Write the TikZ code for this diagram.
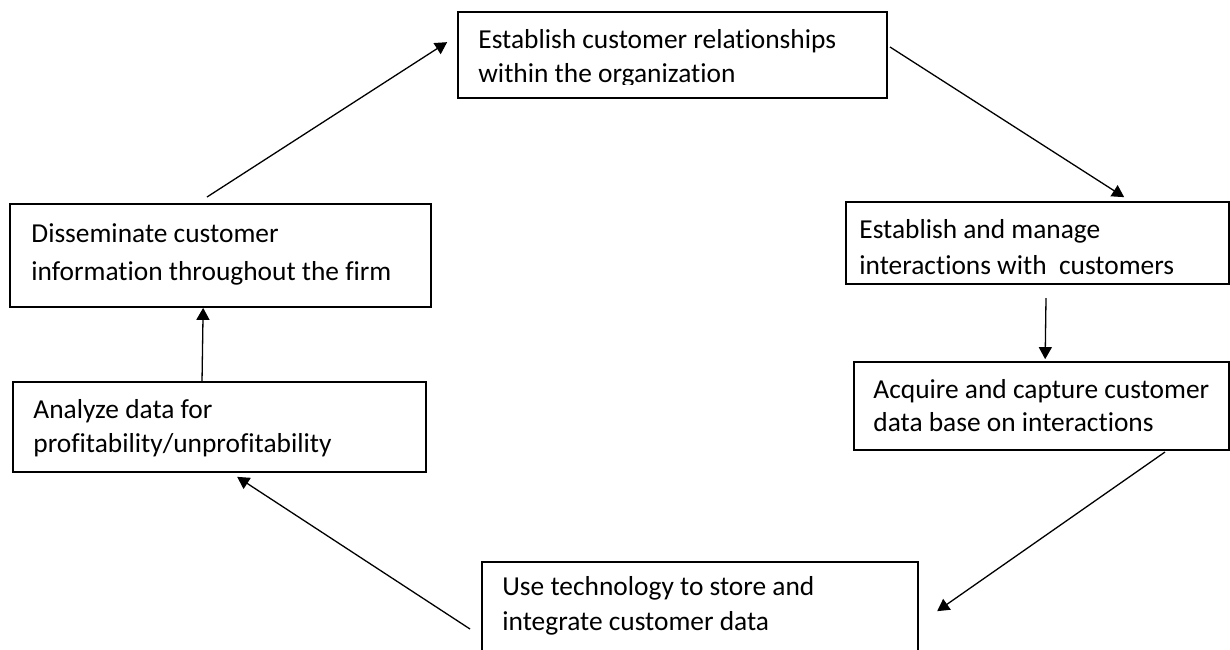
\documentclass[tikz,border=0pt]{standalone}
\usepackage{fontspec}
\setmainfont{Carlito}[Ligatures={NoCommon}]
\usetikzlibrary{arrows.meta,fit,calc}
\tikzset{
  box/.style={draw=black, line width=0.85pt, inner sep=0pt, fill=none},
  txt/.style={anchor=base west, inner sep=0pt, font=\fontsize{13.7}{16.5}\selectfont},
  arr/.style={draw=black, line width=0.65pt, -{Triangle[length=6pt,width=6.5pt]}},
}
\begin{document}
\begin{tikzpicture}[x=0.5pt,y=-0.5pt]
\useasboundingbox (0,0) rectangle (1230,649);
% boxes
\node[box, fit={(458,12) (887,98)}] (est) {};
\node[box, fit={(846,202) (1229,284)}] (man) {};
\node[box, fit={(854,362) (1229,450)}] (acq) {};
\node[box, fit={(482,562) (918,680)}] (use) {};
\node[box, fit={(13,382) (426,472)}] (ana) {};
\node[box, fit={(10,204) (431,307)}] (dis) {};
% texts (clipped to the boxes' text areas)
\begin{scope}
\clip (est.north west) rectangle ([shift={(0,-14)}]est.south east);
\node[txt] (est1) at (478,48) {Establish customer relationships};
\node[txt] (est2) at (478,82) {within the organization};
\end{scope}
\begin{scope}
\clip (man.north west) rectangle ([shift={(0,-10)}]man.south east);
\node[txt] (man1) at (859,238) {Establish and manage};
\node[txt] (man2) at (859,274) {interactions with\ \ customers};
\end{scope}
\node[txt] (acq1) at (873,398) {Acquire and capture customer};
\node[txt] (acq2) at (873,431) {data base on interactions};
\node[txt] (use1) at (502,595) {Use technology to store and};
\node[txt] (use2) at (502,630) {integrate customer data};
\node[txt] (ana1) at (33,418) {Analyze data for};
\node[txt] (ana2) at (33,452) {profitability/unprofitability};
\node[txt] (dis1) at (31,242) {Disseminate customer};
\node[txt] (dis2) at (31,280) {information throughout the firm};
% free ends of connectors
\coordinate (s1) at (207,197);
\coordinate (s2) at (890,47);
\coordinate (s3) at (1046,298);
\coordinate (s4) at (1165,452);
\coordinate (s5) at (470,629);
\coordinate (s6) at (202,382);
% connectors
\draw[arr] (s1) -- ([shift={(-10,31)}]est.north west);
\draw[arr] (s2) -- ([shift={(279,-4)}]man.north west);
\draw[arr] (s3) -- ([shift={(192,-2)}]acq.north west);
\draw[arr] (s4) -- ([shift={(456,50)}]use.north west);
\draw[arr] (s5) -- ([shift={(225,4)}]ana.south west);
\draw[arr] (s6) -- ([shift={(194,0)}]dis.south west);
\end{tikzpicture}
\end{document}
